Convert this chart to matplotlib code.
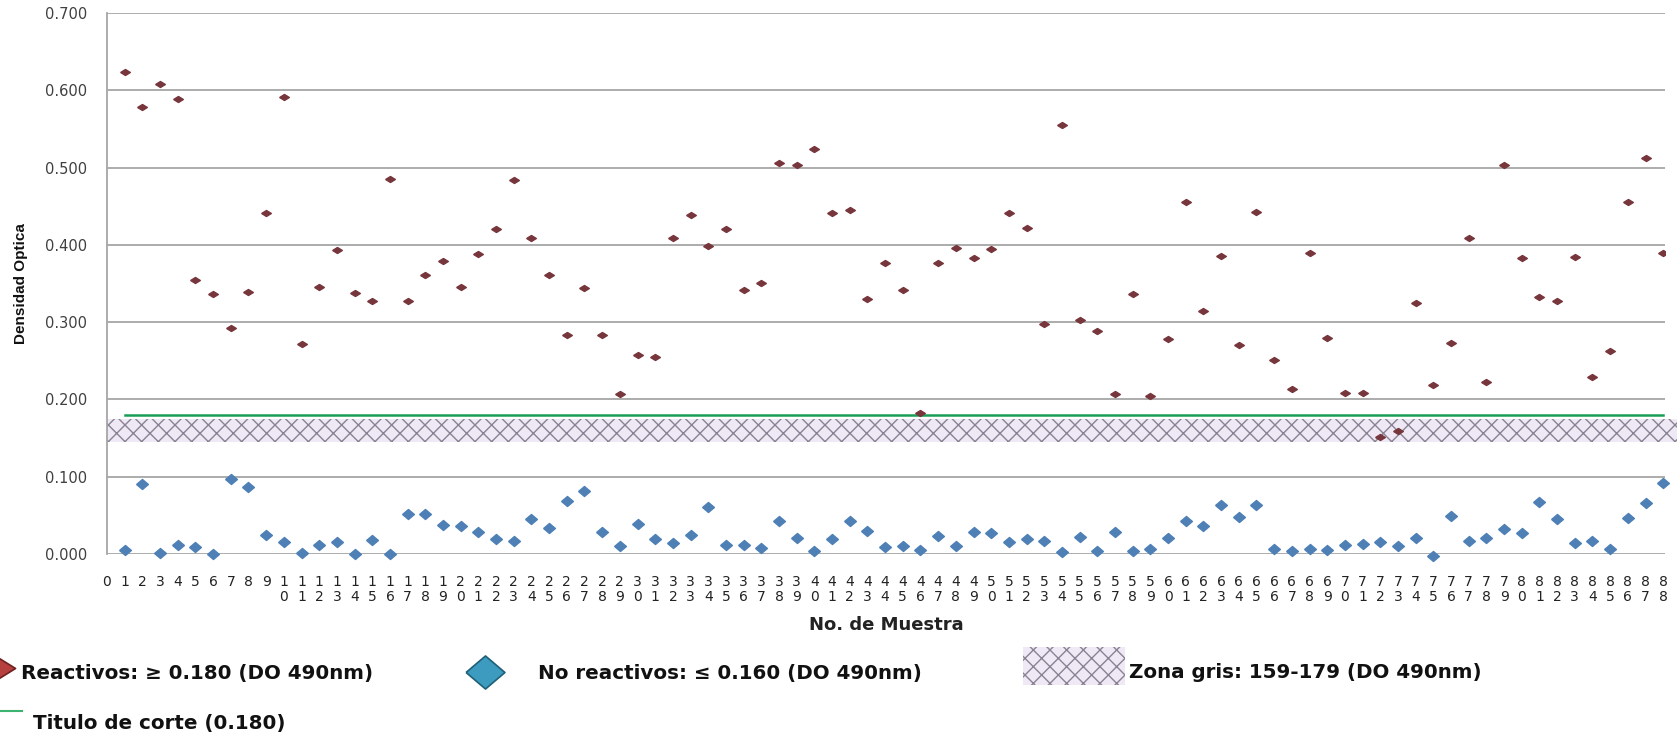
import matplotlib
matplotlib.use("Agg")
import matplotlib.pyplot as plt
import numpy as np
from matplotlib.lines import Line2D
from matplotlib.patches import Rectangle

# optical density per sample
muestras = list(range(1, 89))
reactivos = [0.624, 0.579, 0.608, 0.589, 0.354, 0.336, 0.293, 0.339, 0.441, 0.591,
             0.272, 0.346, 0.393, 0.338, 0.328, 0.485, 0.328, 0.361, 0.379, 0.346,
             0.388, 0.420, 0.484, 0.409, 0.361, 0.284, 0.344, 0.284, 0.207, 0.257,
             0.255, 0.409, 0.438, 0.398, 0.420, 0.341, 0.351, 0.506, 0.503, 0.524,
             0.441, 0.445, 0.330, 0.377, 0.341, 0.183, 0.377, 0.396, 0.383, 0.395,
             0.441, 0.422, 0.297, 0.555, 0.303, 0.288, 0.207, 0.336, 0.205, 0.278,
             0.455, 0.315, 0.386, 0.270, 0.442, 0.251, 0.213, 0.390, 0.280, 0.208,
             0.208, 0.151, 0.159, 0.325, 0.219, 0.273, 0.409, 0.223, 0.503, 0.383,
             0.333, 0.328, 0.384, 0.229, 0.263, 0.455, 0.513, 0.390]
no_reactivos = [0.005, 0.091, 0.001, 0.011, 0.009, 0.000, 0.097, 0.087, 0.025, 0.015,
                0.001, 0.012, 0.015, 0.000, 0.018, 0.000, 0.052, 0.052, 0.037, 0.036,
                0.028, 0.019, 0.017, 0.045, 0.034, 0.069, 0.082, 0.028, 0.010, 0.039,
                0.019, 0.014, 0.024, 0.061, 0.011, 0.011, 0.008, 0.043, 0.021, 0.004,
                0.020, 0.043, 0.030, 0.009, 0.010, 0.005, 0.023, 0.010, 0.029, 0.027,
                0.016, 0.020, 0.017, 0.002, 0.022, 0.004, 0.029, 0.004, 0.006, 0.021,
                0.043, 0.036, 0.064, 0.048, 0.064, 0.007, 0.004, 0.007, 0.005, 0.012,
                0.013, 0.015, 0.010, 0.021, -0.002, 0.049, 0.017, 0.021, 0.032, 0.027,
                0.067, 0.045, 0.014, 0.017, 0.007, 0.047, 0.066, 0.092]
corte = 0.180
zona_gris = (0.145, 0.175)
y_ticks = [0.0, 0.1, 0.2, 0.3, 0.4, 0.5, 0.6, 0.7]
x_ticks = list(range(0, 89))

plt.rcParams['hatch.color'] = '#8a8294'
plt.rcParams['hatch.linewidth'] = 1.0

W, H = 1681, 735
fig = plt.figure(figsize=(W / 100, H / 100), dpi=100)
ax = fig.add_axes([107 / W, 1 - 554 / H, (1665 - 107) / W, (554 - 13) / H])

# flattened diamonds
red_mk = [(-1, 0), (0, 0.62), (1, 0), (0, -0.62), (-1, 0)]
blue_mk = [(-1, 0), (0, 0.85), (1, 0), (0, -0.85), (-1, 0)]

for y in y_ticks:
    ax.axhline(y, color='#a6a6a6', lw=1.3, zorder=1)

ax.fill_between([0, 88.8], zona_gris[0], zona_gris[1], facecolor='#eee9f4',
                edgecolor='#8a8294', hatch='xx', linewidth=0, zorder=2, clip_on=False)
ax.plot([muestras[0], muestras[-1]], [corte, corte], color='#1a9e55', lw=1.8, zorder=3)

ax.plot(muestras, reactivos, ls='none', marker=red_mk, ms=7, color='#77363c', zorder=4)
ax.plot(muestras, no_reactivos, ls='none', marker=blue_mk, ms=8.5, color='#4e80b6',
        zorder=4, clip_on=False)

ax.set_xlim(0, 88.1)
ax.set_ylim(0, 0.7)
ax.set_yticks(y_ticks)
ax.set_yticklabels(['%.3f' % v for v in y_ticks], fontsize=10.5, color='#404040')
ax.set_xticks(x_ticks)
ax.set_xticklabels(['\n'.join(str(i)) for i in x_ticks], fontsize=10, color='#222222',
                   linespacing=1.15)
ax.tick_params(axis='both', length=0)
ax.tick_params(axis='y', pad=14.5)
ax.tick_params(axis='x', pad=15)
for s in ['top', 'right', 'bottom']:
    ax.spines[s].set_visible(False)
ax.spines['left'].set_color('#a6a6a6')
ax.spines['left'].set_linewidth(1.3)

fig.text(886 / W, 1 - 625 / H, 'No. de Muestra', ha='center', va='center',
         fontsize=13, fontweight='bold', family='DejaVu Sans', color='#222222')
fig.text(21 / W, 1 - 284 / H, 'Densidad Optica', ha='center', va='center', rotation=90,
         fontsize=11, fontweight='bold', family='Liberation Sans', color='#111111')

# legend, laid out by hand like the original
leg_font = dict(fontsize=14.3, fontweight='bold', family='DejaVu Sans', va='center',
                color='#111111')
fig.add_artist(Line2D([-3 / W], [1 - 668 / H], transform=fig.transFigure, marker=red_mk,
                      ms=26, color='#b5403d', mec='#6e2020', mew=1.2, ls='none'))
fig.text(21 / W, 1 - 673 / H, 'Reactivos: ≥ 0.180 (DO 490nm)', **leg_font)
fig.add_artist(Line2D([485 / W], [1 - 672 / H], transform=fig.transFigure, marker=blue_mk,
                      ms=28, color='#3d9bbf', mec='#1f6078', mew=1.2, ls='none'))
fig.text(538 / W, 1 - 673 / H, 'No reactivos: ≤ 0.160 (DO 490nm)', **leg_font)
fig.add_artist(Rectangle((1023 / W, 1 - 685 / H), 102 / W, 38 / H, transform=fig.transFigure,
                         facecolor='#eee9f4', edgecolor='#8a8294', hatch='xx', linewidth=0))
fig.text(1129 / W, 1 - 673 / H, 'Zona gris: 159-179 (DO 490nm)', **leg_font)
fig.add_artist(Line2D([0, 22 / W], [1 - 711 / H, 1 - 711 / H], transform=fig.transFigure,
                      color='#3cb371', lw=1.5))
fig.text(33 / W, 1 - 723 / H, 'Titulo de corte (0.180)', **leg_font)

fig.savefig('out.png', dpi=100)
